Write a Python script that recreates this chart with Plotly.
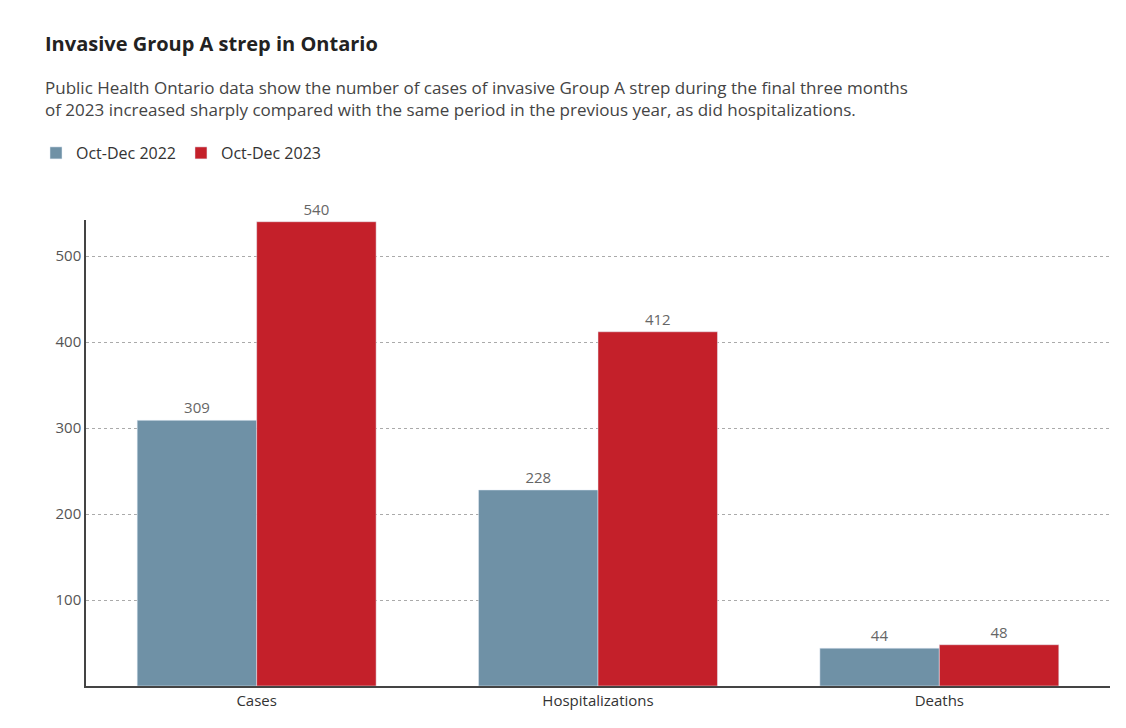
import plotly.graph_objects as go

categories = ["Cases", "Hospitalizations", "Deaths"]
values_2022 = [309, 228, 44]
values_2023 = [540, 412, 48]
y_ticks = [100, 200, 300, 400, 500]

# plot area in pixels: left 78, right 1102, top 212, bottom 678
def px_x(px):
    return (px - 78) / 1024

def px_y(py):
    return (678 - py) / 466

fig = go.Figure()
fig.add_trace(go.Bar(x=categories, y=values_2022, name="Oct-Dec 2022",
                     marker_color="#6f91a6", text=values_2022, textposition="outside",
                     textfont=dict(color="#666", size=15), cliponaxis=False))
fig.add_trace(go.Bar(x=categories, y=values_2023, name="Oct-Dec 2023",
                     marker_color="#c4202a", text=values_2023, textposition="outside",
                     textfont=dict(color="#666", size=15), cliponaxis=False))

fig.update_layout(
    width=1126, height=728,
    margin=dict(l=78, r=24, t=212, b=50),
    plot_bgcolor="white", paper_bgcolor="white",
    font=dict(family="Open Sans", color="#333", size=15),
    barmode="group", bargap=0.3, bargroupgap=0,
    showlegend=True,
    legend=dict(orientation="h", x=px_x(28), y=px_y(145), yanchor="middle", xanchor="left",
                font=dict(size=16, color="#333"), traceorder="normal"),
    xaxis=dict(showline=True, linecolor="#444", linewidth=1.5, ticks="",
               tickfont=dict(size=15, color="#333")),
    yaxis=dict(range=[0, 542], tickvals=y_ticks, showgrid=True, gridcolor="#aaa",
               griddash="dot", showline=True, linecolor="#444", linewidth=1.5,
               ticks="", tickfont=dict(size=15, color="#555"), zeroline=False),
)

fig.add_annotation(text="<b>Invasive Group A strep in Ontario</b>", xref="paper",
                   yref="paper", x=px_x(35), y=px_y(35), xanchor="left",
                   yanchor="middle", showarrow=False, font=dict(size=20, color="#222"))
fig.add_annotation(text="Public Health Ontario data show the number of cases of invasive Group A strep during the final three months<br>"
                        "of 2023 increased sharply compared with the same period in the previous year, as did hospitalizations.",
                   xref="paper", yref="paper", x=px_x(35), y=px_y(90),
                   xanchor="left", yanchor="middle", align="left", showarrow=False,
                   font=dict(size=17, color="#444"))

fig.write_html("out.html")
